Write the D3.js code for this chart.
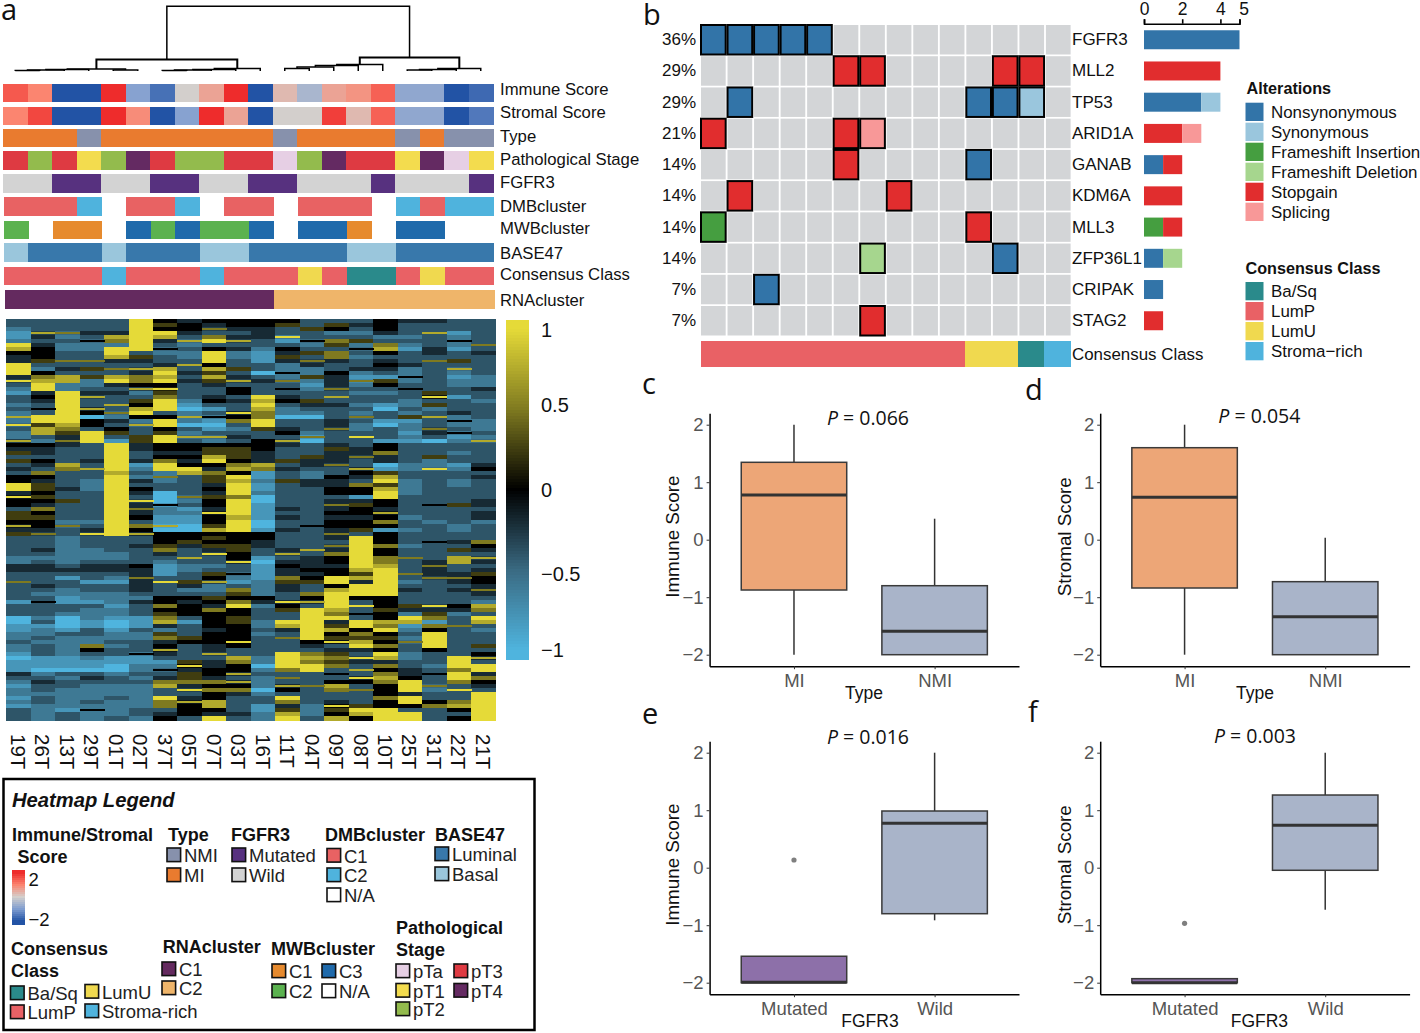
<!DOCTYPE html>
<html>
<head>
<meta charset="utf-8">
<script src="https://cdn.jsdelivr.net/npm/d3@7"></script>
<style>
  body { margin: 0; background: #fff; }
  svg { display: block; font-family: 'Liberation Sans', Arial, sans-serif; }
</style>
</head>
<body>
<div id="chart"></div>
<script>
// ---- panel a data
const samples = ['19T', '26T', '13T', '29T', '01T', '02T', '37T', '05T', '07T', '03T', '16T', '11T', '04T', '09T', '08T', '10T', '25T', '31T', '22T', '21T']

const immuneScore = [1.5, 1.0, -2, -2, 2, -0.9, -1.6, 0, 0.6, 2, -2, 0.3, -0.5, 0.6, 0.8, 1.4, -0.8, -0.8, -2, -1.7]
const stromalScore = [1.0, 1.7, -2, -2, 2, 0.9, -2, -0.9, 2, 0.6, -2, 0, 0, 1.8, 0.3, 1.4, -0.8, -0.8, -2, -1.5]
const typeTrack = ['MI', 'MI', 'MI', 'NMI', 'MI', 'MI', 'MI', 'MI', 'MI', 'MI', 'MI', 'NMI', 'MI', 'MI', 'MI', 'MI', 'NMI', 'MI', 'NMI', 'NMI']
const stageTrack = ['pT3', 'pT2', 'pT3', 'pT1', 'pT2', 'pT4', 'pT3', 'pT2', 'pT2', 'pT3', 'pT3', 'pTa', 'pT2', 'pT4', 'pT3', 'pT3', 'pT1', 'pT4', 'pTa', 'pT1']
const fgfr3Track = ['Wild', 'Wild', 'Mutated', 'Mutated', 'Wild', 'Wild', 'Mutated', 'Mutated', 'Wild', 'Wild', 'Mutated', 'Mutated', 'Wild', 'Wild', 'Wild', 'Mutated', 'Wild', 'Wild', 'Wild', 'Mutated']
const dmbTrack = ['C1', 'C1', 'C1', 'C2', null, 'C1', 'C1', 'C2', null, 'C1', 'C1', null, 'C1', 'C1', 'C1', null, 'C2', 'C1', 'C2', 'C2']
const mwbTrack = ['C2', null, 'C1', 'C1', null, 'C3', 'C2', 'C3', 'C2', 'C2', 'C3', null, 'C3', 'C3', 'C1', null, 'C3', 'C3', null, null]
const base47Track = ['Basal', 'Luminal', 'Luminal', 'Luminal', 'Basal', 'Luminal', 'Luminal', 'Luminal', 'Basal', 'Basal', 'Luminal', 'Luminal', 'Luminal', 'Luminal', 'Basal', 'Basal', 'Luminal', 'Luminal', 'Luminal', 'Luminal']
const consensusTrack = ['LumP', 'LumP', 'LumP', 'LumP', 'Stroma-rich', 'LumP', 'LumP', 'LumP', 'Stroma-rich', 'LumP', 'LumP', 'LumP', 'LumU', 'LumP', 'Ba/Sq', 'Ba/Sq', 'LumP', 'LumU', 'LumP', 'LumP']
const rnaTrack = ['C1', 'C1', 'C1', 'C1', 'C1', 'C1', 'C1', 'C1', 'C1', 'C1', 'C1', 'C2', 'C2', 'C2', 'C2', 'C2', 'C2', 'C2', 'C2', 'C2']

// [height, left, right], leaves are sample indexes
const dendroTree = [64.7,
  [11.5,
    [2, [1.5, [1, [0.5, 0, 1], 2], 3], [1, 4, 5]],
    [2.5, [1.5, [1, [0.5, 6, 7], 8], 9], 10]],
  [13.5,
    [6.5, [5.5, [4, [2.5, 11, 12], 13], 14], 15],
    [2.5, [1.5, [1, 16, 17], 18], 19]]]

// one string per sample, top to bottom, digit = level in heatLevels
const heatLevels = [-1, -0.8, -0.6, -0.4, -0.2, 0, 0.25, 0.5, 0.75, 1]
const heatCols = [
  '3321129854499949321332328 2932285463634355994955366 5846333332244337333313330 0112232210111432122121333',
  '3338434555632578994543539 9688325443543754665654756 5547333432344333432353332 3122323331110234332332222',
  '3337232233734388229999999 9876474333387333343363333 2733222222234313322113320 0013222221110323322222133',
  '3334352233736362234833850 5539993333438332223333333 2349333222344331332213222 1133227532110343222232522',
  '3334872998437389434338372 4356319999999899999999999 9999333322344321332221221 0012232331100233222322223',
  '9999999936438477582365895 2833664433412324354394745 3758334333354474443243331 1132233351122323222222332',
  '5659843523348989596799935 9956995545799272330005221 1805556743211139333557567 8426745843125347833977345',
  '4554382322383434333321028 2032835545459833333723121 1005564338322336423545553 1333653333694667493485553',
  '5473793599958686433453135 1013825668954766454655495 5685656493323658223654755 5545554483445547575588549',
  '5543483422336348355343395 7323435666578598999799998 9995556655933521376579556 6555595338755838574333343',
  '5544433211133034333989877 9963355544487112112001111 0015544331011112222542333 2232333332202322202331122',
  '5633913546422527353453220 3345384333634336333333434 3343333483454476443395633 9843733399997373853974689',
  '3363352363742262123364320 3332703336443224433333333 3533333834445456337583999 9999954378799333733332223',
  '3652376377433544473834333 4473334644473354455347454 5547437475545599589999879 4685693467673535873349658',
  '3432362532334217232332327 3223933447338543755146554 5563999999998684999539353 9957689439438395373336985',
  '5554237853454316532331033 1033315574401689689955485 7515557557789999999555655 8795657598475787555755999',
  '4333232133342252353322326 1221213333322332222333332 3323332337333732343336429 8123273322334459994995399',
  '4338333443733333336936238 3374303336229333333335333 2333353333474473333339467 1759999533323533723357333',
  '3331252133638212233133342 5235123323312332233336333 3223343638833474343335423 3733333339997997393378535',
  '3333337343333322243323333 2223283333345343333344344 2333375438434655474328739 8323336358399475439999999'
]

// ---- panel b data
const genes = ['FGFR3', 'MLL2', 'TP53', 'ARID1A', 'GANAB', 'KDM6A', 'MLL3', 'ZFP36L1', 'CRIPAK', 'STAG2']
const genePct = ['36%', '29%', '29%', '21%', '14%', '14%', '14%', '14%', '7%', '7%']
const oncoSamples = [0, 1, 2, 3, 4, 5, 6, 7, 8, 9, 10, 11, 12, 13]
const oncoConsensus = ['LumP', 'LumP', 'LumP', 'LumP', 'LumP', 'LumP', 'LumP', 'LumP', 'LumP', 'LumP', 'LumU', 'LumU', 'Ba/Sq', 'Stroma-rich']
const alterations = ['Nonsynonymous', 'Synonymous', 'Frameshift Insertion', 'Frameshift Deletion', 'Stopgain', 'Splicing']
const mutations = [
  ['FGFR3', 0, 'Nonsynonymous'], ['FGFR3', 1, 'Nonsynonymous'], ['FGFR3', 2, 'Nonsynonymous'], ['FGFR3', 3, 'Nonsynonymous'], ['FGFR3', 4, 'Nonsynonymous'],
  ['MLL2', 5, 'Stopgain'], ['MLL2', 6, 'Stopgain'], ['MLL2', 11, 'Stopgain'], ['MLL2', 12, 'Stopgain'],
  ['TP53', 1, 'Nonsynonymous'], ['TP53', 10, 'Nonsynonymous'], ['TP53', 11, 'Nonsynonymous'], ['TP53', 12, 'Synonymous'],
  ['ARID1A', 0, 'Stopgain'], ['ARID1A', 5, 'Stopgain'], ['ARID1A', 6, 'Splicing'],
  ['GANAB', 5, 'Stopgain'], ['GANAB', 10, 'Nonsynonymous'],
  ['KDM6A', 1, 'Stopgain'], ['KDM6A', 7, 'Stopgain'],
  ['MLL3', 0, 'Frameshift Insertion'], ['MLL3', 10, 'Stopgain'],
  ['ZFP36L1', 6, 'Frameshift Deletion'], ['ZFP36L1', 11, 'Nonsynonymous'],
  ['CRIPAK', 2, 'Nonsynonymous'],
  ['STAG2', 6, 'Stopgain']
]
const barTicks = [0, 2, 4, 5]

// ---- boxplots, [low, q1, median, q3, high]
const typeGroups = ['MI', 'NMI']
const fgfr3Groups = ['Mutated', 'Wild']
const immuneByType = [[-2, -0.875, 0.777, 1.346, 2], [-2, -2, -1.59, -0.8, 0.365]]
const stromalByType = [[-2, -0.84, 0.737, 1.6, 2], [-2, -2, -1.34, -0.73, 0.035]]
const immuneByFgfr3 = [[-2, -2, -1.99, -1.54, -1.54], [-0.915, -0.8, 0.772, 0.986, 2]]
const stromalByFgfr3 = [[-2, -2, -2, -1.93, -1.93], [-0.73, -0.045, 0.737, 1.264, 2]]
const immuneFgfr3Outliers = [[0.134], []]
const stromalFgfr3Outliers = [[-0.967], []]
const boxTicks = [-2, -1, 0, 1, 2]

// ---- colours
const typeColors = { MI: '#e97b2f', NMI: '#8791ac' }
const stageColors = { pTa: '#e6cfe4', pT1: '#f3dc4e', pT2: '#93bb4d', pT3: '#de3a42', pT4: '#642a62' }
const fgfr3Colors = { Mutated: '#57317f', Wild: '#d3d3d3' }
const dmbColors = { C1: '#e86263', C2: '#4fb3dd' }
const mwbColors = { C1: '#e68a2e', C2: '#5bb24f', C3: '#1f6aab' }
const baseColors = { Luminal: '#3878ab', Basal: '#9ac6dc' }
const consensusColors = { 'Ba/Sq': '#2a8a8b', LumP: '#e96165', LumU: '#f0d94f', 'Stroma-rich': '#4fb3dd' }
const rnaColors = { C1: '#642a5f', C2: '#efb56a' }
const alterationColors = ['#3274a8', '#9ac6dd', '#459e40', '#a6d68e', '#e12d2e', '#f89898']
const boxFills = { MI: '#eda677', NMI: '#a9b4c9', Mutated: '#8d70a9', Wild: '#a9b4c9' }

const scoreColor = d3.scaleLinear()
  .domain([-2, -1, 0, 1, 2])
  .range(['#2253a5', '#7f9dd0', '#d3cfcc', '#fb8570', '#ee2c2c'])
const heatColor = d3.scaleLinear()
  .domain([-1, -0.5, 0, 0.5, 1])
  .range(['#4fb4de', '#3a6a82', '#000000', '#7f7a20', '#e5da38'])
  .clamp(true)

const svg = d3
  .select('#chart')
  .append('svg')
  .attr('width', 1420)
  .attr('height', 1033)

function label(text, x, y, size, opts = {}) {
  return svg
    .append('text')
    .attr('x', x)
    .attr('y', y)
    .attr('dominant-baseline', opts.baseline || 'central')
    .attr('text-anchor', opts.anchor || 'start')
    .attr('font-size', size)
    .attr('font-weight', opts.bold ? 'bold' : 'normal')
    .attr('font-style', opts.italic ? 'italic' : 'normal')
    .attr('font-family', opts.family || null)
    .attr('fill', opts.fill || '#111')
    .text(text)
}

const panelLetters = [['a', 1, 20], ['b', 643, 25], ['c', 642, 394], ['d', 1025, 400], ['e', 642, 724], ['f', 1028, 722]]
panelLetters.forEach(d => label(d[0], d[1], d[2], 29, { family: "'Open Sans', sans-serif", baseline: 'alphabetic' }))

// ---- dendrogram
const dendroX = d3.scaleBand().domain(samples).range([3, 493])
const dendroY = d3.scaleLinear().domain([0, 64.7]).range([71, 6.3])
const dendro = d3.hierarchy(dendroTree, d => (Array.isArray(d) ? d.slice(1) : null))
dendro.eachAfter(n => {
  n.px = n.children ? d3.mean(n.children, c => c.px) : dendroX(samples[n.data]) + dendroX.bandwidth() / 2
  n.h = n.children ? n.data[0] : 0
})
svg
  .append('g')
  .selectAll('path')
  .data(dendro.descendants().filter(n => n.children))
  .enter()
  .append('path')
  .attr('fill', 'none')
  .attr('stroke', '#000')
  .attr('stroke-width', n => (n.h > 10 && n.h < 20 ? 2 : 1.5))
  .attr('d', n => {
    const [l, r] = n.children
    return `M${l.px},${dendroY(l.h)}V${dendroY(n.h)}H${r.px}V${dendroY(r.h)}`
  })

// ---- annotation tracks
const tracks = [
  { name: 'Immune Score', values: immuneScore, color: scoreColor, y0: 84, y1: 102.3, x0: 3, x1: 493, ly: 89.5 },
  { name: 'Stromal Score', values: stromalScore, color: scoreColor, y0: 106.7, y1: 125, x0: 3, x1: 493, ly: 112.5 },
  { name: 'Type', values: typeTrack, color: d => typeColors[d], y0: 129, y1: 147.3, x0: 3, x1: 493, ly: 136 },
  { name: 'Pathological Stage', values: stageTrack, color: d => stageColors[d], y0: 151.3, y1: 169.7, x0: 3, x1: 493, ly: 159.5 },
  { name: 'FGFR3', values: fgfr3Track, color: d => fgfr3Colors[d], y0: 174, y1: 193, x0: 3, x1: 493, ly: 182.5 },
  { name: 'DMBcluster', values: dmbTrack, color: d => dmbColors[d], y0: 197.3, y1: 216, x0: 4, x1: 493.5, ly: 206 },
  { name: 'MWBcluster', values: mwbTrack, color: d => mwbColors[d], y0: 221, y1: 239.3, x0: 4, x1: 493.5, ly: 228.5 },
  { name: 'BASE47', values: base47Track, color: d => baseColors[d], y0: 243.3, y1: 262, x0: 4, x1: 493.5, ly: 253 },
  { name: 'Consensus Class', values: consensusTrack, color: d => consensusColors[d], y0: 266.7, y1: 285.3, x0: 4, x1: 493.5, ly: 274.5 },
  { name: 'RNAcluster', values: rnaTrack, color: d => rnaColors[d], y0: 290.3, y1: 309.3, x0: 5, x1: 494, ly: 300 }
]
tracks.forEach(t => {
  const x = d3.scaleBand().domain(samples).range([t.x0, t.x1])
  svg
    .append('g')
    .attr('shape-rendering', 'crispEdges')
    .selectAll('rect')
    .data(t.values.map((v, i) => ({ v, s: samples[i] })).filter(d => d.v !== null))
    .enter()
    .append('rect')
    .attr('x', d => x(d.s))
    .attr('width', x.bandwidth() + 0.5)
    .attr('y', t.y0)
    .attr('height', t.y1 - t.y0)
    .attr('fill', d => t.color(d.v))
  label(t.name, 500, t.ly, 16.7)
})

// ---- heatmap
const heatX = d3.scaleBand().domain(samples).range([6.2, 495.6])
const heatRows = d3.range(100)
const heatY = d3.scaleBand().domain(heatRows).range([318.5, 720.5])

// a lone bright or black row in a column is really a hairline, so it is drawn
// as a thin stripe on top of whatever surrounds it
function readCell(digits, c, r) {
  const d = +digits[r]
  const up = r > 0 ? +digits[r - 1] : d
  const down = r < 99 ? +digits[r + 1] : d
  const lone = (d >= 7 && up <= d - 3 && down <= d - 3) || (d === 5 && up <= 3 && down <= 3)
  return {
    sample: samples[c],
    row: r,
    value: heatLevels[d],
    lone,
    base: lone ? (heatLevels[up] + heatLevels[down]) / 2 : heatLevels[d]
  }
}
const heatCells = heatCols.flatMap((col, c) => {
  const digits = col.replace(/ /g, '')
  return heatRows.map(r => readCell(digits, c, r))
})
const heatG = svg.append('g').attr('shape-rendering', 'crispEdges')
heatG
  .selectAll('rect.cell')
  .data(heatCells)
  .enter()
  .append('rect')
  .attr('class', 'cell')
  .attr('x', d => heatX(d.sample))
  .attr('width', heatX.bandwidth() + 0.5)
  .attr('y', d => heatY(d.row))
  .attr('height', heatY.bandwidth() + 0.5)
  .attr('fill', d => heatColor(d.base))
heatG
  .selectAll('rect.hair')
  .data(heatCells.filter(d => d.lone))
  .enter()
  .append('rect')
  .attr('class', 'hair')
  .attr('x', d => heatX(d.sample))
  .attr('width', heatX.bandwidth() + 0.5)
  .attr('y', d => heatY(d.row) + heatY.bandwidth() / 2 - 1)
  .attr('height', 2)
  .attr('fill', d => heatColor(d.value))

samples.forEach(s => {
  const cx = heatX(s) + heatX.bandwidth() / 2
  svg
    .append('text')
    .attr('transform', `translate(${cx},734) rotate(90)`)
    .attr('dominant-baseline', 'central')
    .attr('font-size', 20.5)
    .attr('fill', '#111')
    .text(s)
})

// colour bar
const barY = d3.scaleLinear().domain([-1, 1]).range([650, 329])
const barSteps = d3.range(320, 659, 3)
svg
  .append('g')
  .attr('shape-rendering', 'crispEdges')
  .selectAll('rect')
  .data(barSteps)
  .enter()
  .append('rect')
  .attr('x', 506)
  .attr('width', 23)
  .attr('y', d => d)
  .attr('height', 3.5)
  .attr('fill', d => heatColor(barY.invert(d + 1.5)))
const colorTicks = [1, 0.5, 0, -0.5, -1]
const colorTickNudge = [1, -4, 0, 4, 0]
colorTicks.forEach((t, i) => label(d3.format('')(t), 541, barY(t) + colorTickNudge[i], 20))

// ---- legend box
svg
  .append('rect')
  .attr('x', 3.5)
  .attr('y', 779)
  .attr('width', 531)
  .attr('height', 251)
  .attr('fill', 'none')
  .attr('stroke', '#000')
  .attr('stroke-width', 2.5)

label('Heatmap Legend', 12, 800, 20.2, { bold: true, italic: true })

const legendTitles = [
  ['Immune/Stromal', 12, 835], ['Score', 17.4, 857], ['Type', 168, 835], ['FGFR3', 231, 835], ['DMBcluster', 325, 835], ['BASE47', 435, 835],
  ['Consensus', 11, 948.5], ['Class', 11, 971], ['RNAcluster', 162.7, 947], ['MWBcluster', 271, 949], ['Pathological', 396, 927.7], ['Stage', 396, 950]
]
legendTitles.forEach(d => label(d[0], d[1], d[2], 18, { bold: true }))

function legendSwatch(name, color, x, y) {
  svg
    .append('rect')
    .attr('x', x)
    .attr('y', y)
    .attr('width', 13.6)
    .attr('height', 13.6)
    .attr('fill', color)
    .attr('stroke', '#111')
    .attr('stroke-width', 1.6)
  label(name, x + 17, y + 7.5, 18.5, { fill: '#222' })
}

const legendItems = [
  ['NMI', typeColors.NMI, 167, 848], ['MI', typeColors.MI, 167, 868],
  ['Mutated', fgfr3Colors.Mutated, 232, 848], ['Wild', fgfr3Colors.Wild, 232, 868],
  ['C1', dmbColors.C1, 327, 848.5], ['C2', dmbColors.C2, 327, 868], ['N/A', 'none', 327, 888],
  ['Luminal', baseColors.Luminal, 435, 847], ['Basal', baseColors.Basal, 435, 867],
  ['Ba/Sq', consensusColors['Ba/Sq'], 10.5, 986], ['LumP', consensusColors.LumP, 10.5, 1005],
  ['LumU', consensusColors.LumU, 85, 984.5], ['Stroma-rich', consensusColors['Stroma-rich'], 85, 1004],
  ['C1', rnaColors.C1, 162, 962], ['C2', rnaColors.C2, 162, 981],
  ['C1', mwbColors.C1, 272, 964], ['C2', mwbColors.C2, 272, 984],
  ['C3', mwbColors.C3, 322, 964], ['N/A', 'none', 322, 984],
  ['pTa', stageColors.pTa, 396, 964], ['pT1', stageColors.pT1, 396, 983.5], ['pT2', stageColors.pT2, 396, 1002],
  ['pT3', stageColors.pT3, 454, 964], ['pT4', stageColors.pT4, 454, 983.5]
]
legendItems.forEach(d => legendSwatch(d[0], d[1], d[2], d[3]))

// immune/stromal gradient
const gradY = d3.scaleLinear().domain([-2, 2]).range([921, 873])
const gradSteps = d3.range(870, 924, 2)
svg
  .append('g')
  .attr('shape-rendering', 'crispEdges')
  .selectAll('rect')
  .data(gradSteps)
  .enter()
  .append('rect')
  .attr('x', 11.5)
  .attr('width', 13.5)
  .attr('y', d => d)
  .attr('height', 2.5)
  .attr('fill', d => scoreColor(Math.max(-2, Math.min(2, gradY.invert(d + 1)))))
label('2', 28.5, 879.5, 18.5)
label('\u22122', 28.5, 919, 18.5)

// ---- oncoplot
const oncoX = d3.scaleBand().domain(oncoSamples).range([701, 1070.6]).paddingInner(0.07)
const oncoY = d3.scaleBand().domain(genes).range([25, 335.5]).paddingInner(0.055)
const altColor = d3.scaleOrdinal().domain(alterations).range(alterationColors)

const oncoGrid = genes.flatMap(g => oncoSamples.map(s => ({ g, s })))
svg
  .append('g')
  .selectAll('rect')
  .data(oncoGrid)
  .enter()
  .append('rect')
  .attr('x', d => oncoX(d.s))
  .attr('y', d => oncoY(d.g))
  .attr('width', oncoX.bandwidth())
  .attr('height', oncoY.bandwidth())
  .attr('fill', '#d3d5d7')
svg
  .append('g')
  .selectAll('rect')
  .data(mutations)
  .enter()
  .append('rect')
  .attr('x', d => oncoX(d[1]))
  .attr('y', d => oncoY(d[0]))
  .attr('width', oncoX.bandwidth())
  .attr('height', oncoY.bandwidth())
  .attr('fill', d => altColor(d[2]))
  .attr('stroke', '#000')
  .attr('stroke-width', 2)

genes.forEach((g, i) => {
  const cy = oncoY(g) + oncoY.bandwidth() / 2
  label(genePct[i], 696, cy, 17, { anchor: 'end' })
  label(g, 1072, cy, 17)
})

const oncoClassX = d3.scaleBand().domain(oncoSamples).range([700.5, 1070.5])
svg
  .append('g')
  .attr('shape-rendering', 'crispEdges')
  .selectAll('rect')
  .data(oncoSamples)
  .enter()
  .append('rect')
  .attr('x', d => oncoClassX(d))
  .attr('width', oncoClassX.bandwidth() + 0.5)
  .attr('y', 340.7)
  .attr('height', 26)
  .attr('fill', d => consensusColors[oncoConsensus[d]])
label('Consensus Class', 1072, 354, 16.9)

// stacked count bars, counted from the mutation table
const barRows = genes.map(g => {
  const row = { gene: g }
  alterations.forEach(a => {
    row[a] = mutations.filter(m => m[0] === g && m[2] === a).length
  })
  return row
})
const barX = d3.scaleLinear().domain([0, 5]).range([1144, 1239.5])
svg
  .append('g')
  .selectAll('g')
  .data(d3.stack().keys(alterations)(barRows))
  .enter()
  .append('g')
  .attr('fill', d => altColor(d.key))
  .selectAll('rect')
  .data(d => d)
  .enter()
  .append('rect')
  .attr('x', d => barX(d[0]))
  .attr('width', d => barX(d[1]) - barX(d[0]))
  .attr('y', d => oncoY(d.data.gene) + oncoY.bandwidth() / 2 - 9.5)
  .attr('height', 19)

const barAxis = svg
  .append('g')
  .attr('transform', 'translate(0,23.7)')
  .call(d3.axisTop(barX).tickValues(barTicks).tickSize(4.5).tickSizeOuter(4.5).tickFormat(d3.format('d')))
barAxis.selectAll('path,line').attr('stroke', '#000').attr('stroke-width', 1.6)
barAxis.selectAll('text').attr('font-size', 17.5).attr('font-family', null).attr('fill', '#111').attr('y', -14.5).attr('dy', '0.32em')
barAxis.selectAll('text').filter(d => d === 5).attr('x', 4)

label('Alterations', 1246.5, 88, 16.2, { bold: true })
alterations.forEach((a, i) => {
  svg
    .append('rect')
    .attr('x', 1245.5)
    .attr('y', 102.7 + i * 20)
    .attr('width', 18)
    .attr('height', 18.3)
    .attr('fill', altColor(a))
  label(a, 1271, 112 + i * 20.1, 16.9)
})

label('Consensus Class', 1245.5, 267.7, 16.2, { bold: true })
const consensusNames = ['Ba/Sq', 'LumP', 'LumU', 'Stroma\u2212rich']
consensusNames.forEach((c, i) => {
  svg
    .append('rect')
    .attr('x', 1245.5)
    .attr('y', 282 + i * 20)
    .attr('width', 18)
    .attr('height', 18.3)
    .attr('fill', consensusColors[c.replace('\u2212', '-')])
  label(c, 1271, 291 + i * 20.1, 16.9)
})

// ---- boxplots
function boxPanel(cfg) {
  const x = d3.scalePoint().domain(cfg.groups).range([cfg.x0, cfg.x0 + 309.4]).padding(0.6)
  const y = d3.scaleLinear().domain([-2.2, 2.2]).range([cfg.zero + 126.5, cfg.zero - 126.5])
  const boxW = 0.75 * x.step()
  const g = svg.append('g')

  const yAxis = g
    .append('g')
    .attr('transform', `translate(${cfg.x0},0)`)
    .call(d3.axisLeft(y).tickValues(boxTicks).tickSize(3).tickSizeOuter(0).tickFormat(d3.format('d')))
  const xAxis = g
    .append('g')
    .attr('transform', `translate(0,${cfg.zero + 126.5})`)
    .call(d3.axisBottom(x).tickSize(3).tickSizeOuter(0))
  ;[yAxis, xAxis].forEach(a => {
    a.selectAll('path').attr('stroke', '#000').attr('stroke-width', 1.5)
    a.selectAll('line').attr('stroke', '#333').attr('stroke-width', 1)
    a.selectAll('text').attr('font-size', 18.5).attr('font-family', null).attr('fill', '#555')
  })
  xAxis.selectAll('text').attr('y', 8)

  cfg.groups.forEach((name, i) => {
    const [lo, q1, med, q3, hi] = cfg.stats[i]
    const cx = x(name)
    g.append('line')
      .attr('x1', cx).attr('x2', cx)
      .attr('y1', y(lo)).attr('y2', y(hi))
      .attr('stroke', '#333').attr('stroke-width', 1.5)
    g.append('rect')
      .attr('x', cx - boxW / 2)
      .attr('width', boxW)
      .attr('y', y(q3))
      .attr('height', y(q1) - y(q3))
      .attr('fill', boxFills[name])
      .attr('stroke', '#3a3a3a')
      .attr('stroke-width', 1.5)
    g.append('line')
      .attr('x1', cx - boxW / 2).attr('x2', cx + boxW / 2)
      .attr('y1', y(med)).attr('y2', y(med))
      .attr('stroke', '#333').attr('stroke-width', 3)
    ;(cfg.outliers ? cfg.outliers[i] : []).forEach(o => {
      g.append('circle')
        .attr('cx', cx).attr('cy', y(o)).attr('r', 2.6)
        .attr('fill', '#7f7f7f')
    })
  })

  label(cfg.yTitle, 0, 0, 18.8)
    .attr('transform', `translate(${cfg.yTitleX},${cfg.zero - 3}) rotate(-90)`)
    .attr('text-anchor', 'middle')
    .attr('x', null).attr('y', null)
  label(cfg.xTitle, cfg.xTitleX, cfg.zero + 153.5, 17.5, { anchor: 'middle' })

  const p = label('', cfg.pX, cfg.pY, 19.5, { anchor: 'middle', family: "'Open Sans', sans-serif" })
  p.append('tspan').attr('font-style', 'italic').text('P')
  p.append('tspan').text(` = ${cfg.p}`)
}

boxPanel({ x0: 709.6, zero: 539.7, groups: typeGroups, stats: immuneByType, yTitle: 'Immune Score', yTitleX: 672, xTitle: 'Type', xTitleX: 864, p: '0.066', pX: 868, pY: 416.7 })
boxPanel({ x0: 1100.2, zero: 539.7, groups: typeGroups, stats: stromalByType, yTitle: 'Stromal Score', yTitleX: 1064.4, xTitle: 'Type', xTitleX: 1255, p: '0.054', pX: 1259.4, pY: 415 })
boxPanel({ x0: 709.6, zero: 867.7, groups: fgfr3Groups, stats: immuneByFgfr3, outliers: immuneFgfr3Outliers, yTitle: 'Immune Score', yTitleX: 672, xTitle: 'FGFR3', xTitleX: 870, p: '0.016', pX: 868, pY: 735.7 })
boxPanel({ x0: 1100.2, zero: 867.7, groups: fgfr3Groups, stats: stromalByFgfr3, outliers: stromalFgfr3Outliers, yTitle: 'Stromal Score', yTitleX: 1064.4, xTitle: 'FGFR3', xTitleX: 1259.4, p: '0.003', pX: 1255, pY: 735 })
</script>
</body>
</html>
